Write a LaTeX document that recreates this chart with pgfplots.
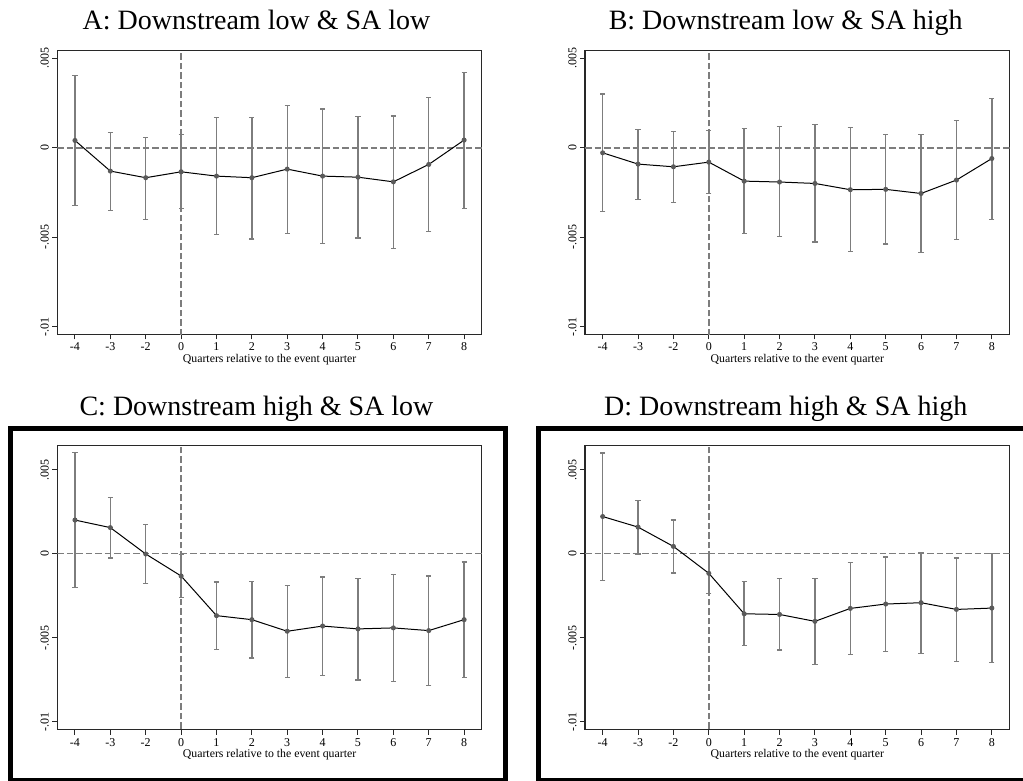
\documentclass[border=0pt]{standalone}
\usepackage{fontspec}
\setmainfont{Liberation Serif}
\usepackage{pgfplots}
\usepackage{pgfplotstable}
\pgfplotsset{compat=1.18}

\definecolor{errgray}{RGB}{125,125,125}
\definecolor{ptgray}{RGB}{90,90,90}
\definecolor{axgray}{RGB}{40,40,40}
\definecolor{refgray}{RGB}{125,125,125}

% x = position (0..11 stands for quarters -4,-3,-2,0,1,...,8), b = estimate, lo/hi = CI
\pgfplotstableread{
x b lo hi
0 0.00041 -0.00322 0.00403
1 -0.00130 -0.00350 0.00084
2 -0.00167 -0.00398 0.00058
3 -0.00134 -0.00340 0.00074
4 -0.00158 -0.00483 0.00167
5 -0.00167 -0.00509 0.00169
6 -0.00119 -0.00478 0.00236
7 -0.00158 -0.00534 0.00216
8 -0.00164 -0.00504 0.00175
9 -0.00190 -0.00560 0.00177
10 -0.00093 -0.00467 0.00279
11 0.00043 -0.00338 0.00420
}\panelA

\pgfplotstableread{
x b lo hi
0 -0.00028 -0.00357 0.00300
1 -0.00091 -0.00288 0.00104
2 -0.00106 -0.00305 0.00091
3 -0.00080 -0.00255 0.00097
4 -0.00186 -0.00480 0.00106
5 -0.00191 -0.00496 0.00117
6 -0.00199 -0.00526 0.00130
7 -0.00234 -0.00578 0.00113
8 -0.00232 -0.00537 0.00074
9 -0.00255 -0.00584 0.00076
10 -0.00180 -0.00513 0.00152
11 -0.00060 -0.00398 0.00275
}\panelB

\pgfplotstableread{
x b lo hi
0 0.00200 -0.00200 0.00603
1 0.00155 -0.00026 0.00335
2 -0.00002 -0.00180 0.00175
3 -0.00133 -0.00262 -0.00004
4 -0.00369 -0.00569 -0.00169
5 -0.00393 -0.00621 -0.00165
6 -0.00462 -0.00738 -0.00190
7 -0.00431 -0.00724 -0.00139
8 -0.00448 -0.00752 -0.00147
9 -0.00442 -0.00762 -0.00123
10 -0.00458 -0.00786 -0.00133
11 -0.00393 -0.00738 -0.00050
}\panelC

\pgfplotstableread{
x b lo hi
0 0.00221 -0.00158 0.00599
1 0.00158 -0.00002 0.00316
2 0.00043 -0.00115 0.00200
3 -0.00117 -0.00237 0.00003
4 -0.00358 -0.00547 -0.00166
5 -0.00362 -0.00573 -0.00150
6 -0.00403 -0.00658 -0.00150
7 -0.00326 -0.00599 -0.00055
8 -0.00300 -0.00583 -0.00020
9 -0.00292 -0.00593 0.00004
10 -0.00332 -0.00642 -0.00026
11 -0.00324 -0.00650 0.00000
}\panelD

\pgfplotsset{
  evt/.style={
    scale only axis, width=424.5pt,
    xmin=-0.5, xmax=11.5,
    xtick={0,...,11},
    xticklabels={-4,-3,-2,0,1,2,3,4,5,6,7,8},
    ytick={-0.01,-0.005,0,0.005},
    yticklabels={-.01,-.005,0,.005},
    scaled y ticks=false,
    tick align=outside, xtick pos=bottom, ytick pos=left,
    major tick length=5pt,
    tick style={axgray, line width=1pt},
    axis line style={axgray, line width=1.2pt},
    tick label style={font=\fontsize{12}{12}\selectfont},
    yticklabel style={rotate=90, anchor=south},
    xlabel={Quarters relative to the event quarter},
    xlabel style={font=\fontsize{11.8}{12}\selectfont,
      at={(axis description cs:0.5,0)}, anchor=base, yshift=-28pt},
  },
  est/.style={black, line width=1pt, mark=*, mark size=2pt,
    mark options={draw=ptgray, fill=ptgray},
    error bars/.cd, y dir=both, y explicit,
    error bar style={errgray, line width=1.4pt},
    error mark options={rotate=90, errgray, mark size=2.6pt, line width=1.2pt}},
  refl/.style={refgray, line width=1.5pt, dash pattern=on 6.5pt off 3pt},
}

\newcommand{\panel}[1]{%
  \addplot[refl] coordinates {(-0.5,0) (11.5,0)};
  \addplot[refl] coordinates {(3,-0.011) (3,0.0066)};
  \addplot[est] table[x=x, y=b,
    y error plus expr=\thisrow{hi}-\thisrow{b},
    y error minus expr=\thisrow{b}-\thisrow{lo}] {#1};
}

\begin{document}
\begin{tikzpicture}
\path[use as bounding box, fill=white] (0pt,0pt) rectangle (1023pt,780pt);

% titles
\begin{scope}[every node/.style={anchor=base, font=\fontsize{28}{28}\selectfont}]
\node at (256.5pt,750.7pt) {A: Downstream low \& SA low};
\node at (785.7pt,750.7pt) {B: Downstream low \& SA high};
\node at (256.5pt,364.3pt) {C: Downstream high \& SA low};
\node at (785.7pt,364.3pt) {D: Downstream high \& SA high};
\end{scope}

% thick frames round the lower panels
\draw[line width=5pt] (10.5pt,-0.5pt) rectangle (505pt,351.5pt);
\draw[line width=5pt] (538.5pt,-0.5pt) rectangle (1035pt,351.5pt);

\begin{axis}[evt, height=283.6pt, ymin=-0.01041, ymax=0.00542,
  at={(57.3pt,445.7pt)}, anchor=south west]
\panel{\panelA}
\end{axis}

\begin{axis}[evt, height=283.6pt, ymin=-0.01041, ymax=0.00542,
  at={(585pt,445.7pt)}, anchor=south west]
\panel{\panelB}
\end{axis}

\begin{axis}[evt, height=284.4pt, ymin=-0.01048, ymax=0.00645,
  at={(57.3pt,50.3pt)}, anchor=south west]
\panel{\panelC}
\end{axis}

\begin{axis}[evt, height=284.4pt, ymin=-0.01048, ymax=0.00645,
  at={(585pt,50.3pt)}, anchor=south west]
\panel{\panelD}
\end{axis}
\end{tikzpicture}
\end{document}
